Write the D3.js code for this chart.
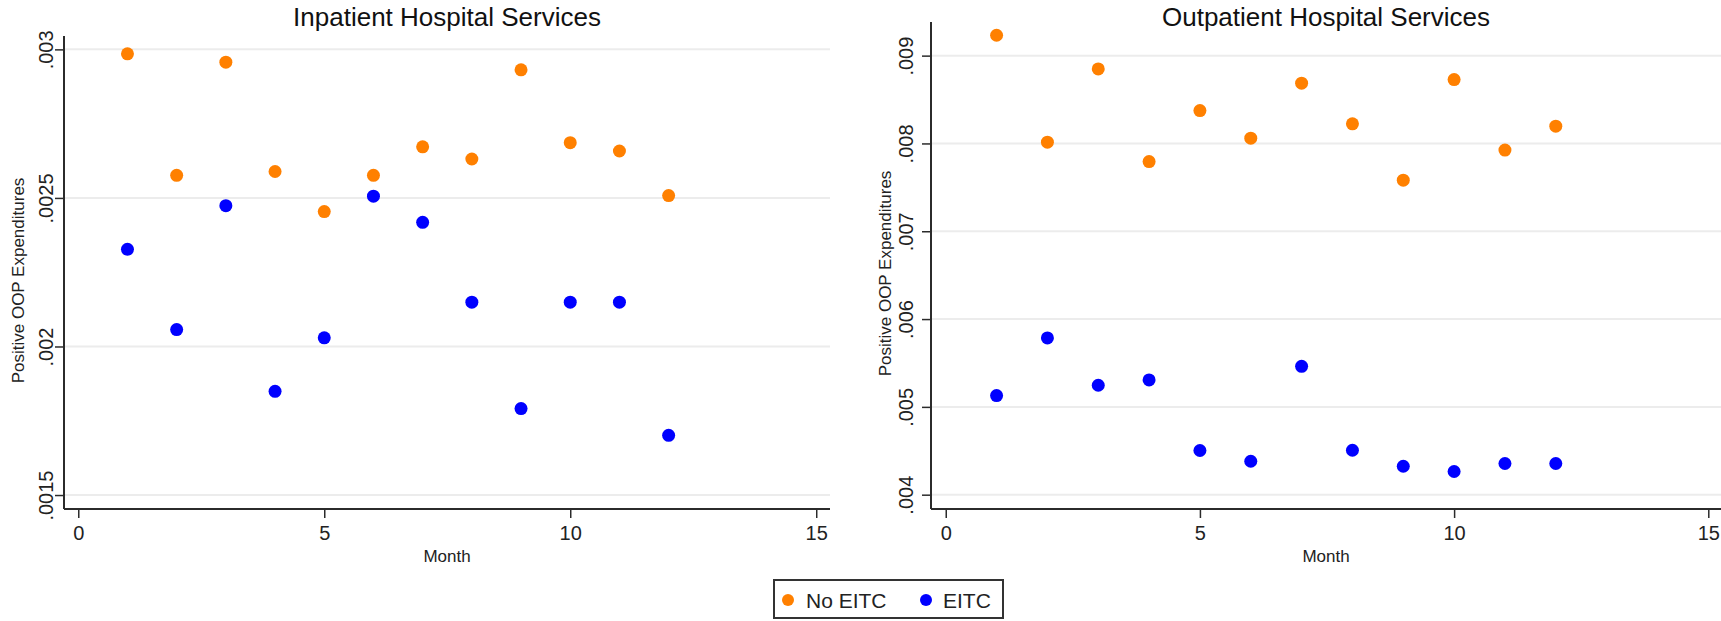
<!DOCTYPE html>
<html>
<head>
<meta charset="utf-8">
<script src="https://cdn.jsdelivr.net/npm/d3@7"></script>
<style>
    html, body { margin: 0; padding: 0; background: #fff; }
    svg { display: block; font-family: "Liberation Sans", Arial, sans-serif; }
</style>
</head>
<body>
<div id="chart"></div>
<script>
// Months on the x axis
const months = [1, 2, 3, 4, 5, 6, 7, 8, 9, 10, 11, 12];

// Inpatient hospital services
const inpatientNoEitc = [0.002985, 0.002576, 0.002957, 0.002589, 0.002454, 0.002576,
    0.002672, 0.002631, 0.002931, 0.002686, 0.002658, 0.002508];
const inpatientEitc = [0.002327, 0.002057, 0.002474, 0.001849, 0.002029, 0.002506,
    0.002418, 0.002149, 0.001791, 0.002149, 0.002149, 0.001701];
const inpatientYTicks = [0.0015, 0.002, 0.0025, 0.003];
const inpatientYLabels = ['.0015', '.002', '.0025', '.003'];

// Outpatient hospital services
const outpatientNoEitc = [0.009232, 0.008015, 0.008849, 0.007794, 0.008374, 0.008060,
    0.008686, 0.008223, 0.007582, 0.008727, 0.007924, 0.008197];
const outpatientEitc = [0.005129, 0.005785, 0.005246, 0.005307, 0.004503, 0.004381,
    0.005462, 0.004506, 0.004324, 0.004264, 0.004355, 0.004355];
const outpatientYTicks = [0.004, 0.005, 0.006, 0.007, 0.008, 0.009];
const outpatientYLabels = ['.004', '.005', '.006', '.007', '.008', '.009'];

const xTicks = [0, 5, 10, 15];
const seriesNames = ['No EITC', 'EITC'];

const orange = '#ff8000';
const blue = '#0000ff';
const axisColor = '#2b2b2b';
const gridColor = '#ececec';

const W = 1721, H = 621;
const svg = d3.select('#chart').append('svg')
    .attr('width', W)
    .attr('height', H);

const panels = [
    {
        title: 'Inpatient Hospital Services',
        noEitc: inpatientNoEitc, eitc: inpatientEitc,
        yTicks: inpatientYTicks, yLabels: inpatientYLabels,
        left: 64, right: 830, top: 36, bottom: 509,
        xDomain: [-0.29, 15.28], yDomain: [0.001453, 0.003045],
        labelGap: 11
    },
    {
        title: 'Outpatient Hospital Services',
        noEitc: outpatientNoEitc, eitc: outpatientEitc,
        yTicks: outpatientYTicks, yLabels: outpatientYLabels,
        left: 931, right: 1721, top: 22, bottom: 509,
        xDomain: [-0.29, 15.25], yDomain: [0.003837, 0.009383],
        labelGap: 18
    }
];

panels.forEach(p => {
    const g = svg.append('g');

    const x = d3.scaleLinear().domain(p.xDomain).range([p.left, p.right]);
    const y = d3.scaleLinear().domain(p.yDomain).range([p.bottom, p.top]);

    // Grid lines
    g.append('g')
        .selectAll('line')
        .data(p.yTicks)
        .enter()
        .append('line')
        .attr('x1', p.left + 1)
        .attr('x2', p.right)
        .attr('y1', d => y(d))
        .attr('y2', d => y(d))
        .attr('stroke', gridColor)
        .attr('stroke-width', 2);

    // Y axis
    const yAxis = d3.axisLeft(y)
        .tickValues(p.yTicks)
        .tickSize(9)
        .tickPadding(p.labelGap - 9)
        .tickFormat((d, i) => p.yLabels[i]);

    const yg = g.append('g')
        .attr('transform', `translate(${p.left},0)`)
        .call(yAxis);
    yg.select('.domain').remove();
    yg.selectAll('.tick line').attr('stroke', axisColor).attr('stroke-width', 1.5);
    yg.selectAll('.tick text')
        .attr('x', null).attr('dy', null)
        .attr('transform', `translate(${-p.labelGap},0) rotate(-90)`)
        .attr('text-anchor', 'middle')
        .attr('fill', '#222')
        .style('font-size', '20px');

    g.append('line')
        .attr('x1', p.left).attr('x2', p.left)
        .attr('y1', p.top).attr('y2', p.bottom)
        .attr('stroke', axisColor)
        .attr('stroke-width', 2);

    // X axis
    const xAxis = d3.axisBottom(x)
        .tickValues(xTicks)
        .tickSize(9)
        .tickPadding(6)
        .tickFormat(d3.format('d'));

    const xg = g.append('g')
        .attr('transform', `translate(0,${p.bottom})`)
        .call(xAxis);
    xg.select('.domain').remove();
    xg.selectAll('.tick line').attr('stroke', axisColor).attr('stroke-width', 1.5);
    xg.selectAll('.tick text')
        .attr('y', null).attr('dy', null)
        .attr('transform', 'translate(0,31)')
        .attr('fill', '#222')
        .style('font-size', '20px');

    g.append('line')
        .attr('x1', p.left).attr('x2', p.right)
        .attr('y1', p.bottom).attr('y2', p.bottom)
        .attr('stroke', axisColor)
        .attr('stroke-width', 2);

    // Titles
    const cx = (p.left + p.right) / 2;
    g.append('text')
        .attr('x', cx)
        .attr('y', 26)
        .attr('text-anchor', 'middle')
        .attr('fill', '#111')
        .style('font-size', '26px')
        .text(p.title);

    g.append('text')
        .attr('x', cx)
        .attr('y', 562)
        .attr('text-anchor', 'middle')
        .attr('fill', '#222')
        .style('font-size', '17px')
        .text('Month');

    g.append('text')
        .attr('transform', `translate(${p.left - 40},${(p.top + p.bottom) / 2 + 8}) rotate(-90)`)
        .attr('text-anchor', 'middle')
        .attr('fill', '#222')
        .style('font-size', '17px')
        .text('Positive OOP Expenditures');

    // Points
    g.selectAll('.no-eitc')
        .data(months)
        .enter()
        .append('circle')
        .attr('class', 'no-eitc')
        .attr('cx', d => x(d))
        .attr('cy', (d, i) => y(p.noEitc[i]))
        .attr('r', 6.5)
        .attr('fill', orange);

    g.selectAll('.eitc')
        .data(months)
        .enter()
        .append('circle')
        .attr('class', 'eitc')
        .attr('cx', d => x(d))
        .attr('cy', (d, i) => y(p.eitc[i]))
        .attr('r', 6.5)
        .attr('fill', blue);
});

// Legend
const legend = svg.append('g');
legend.append('rect')
    .attr('x', 774)
    .attr('y', 580)
    .attr('width', 229)
    .attr('height', 38)
    .attr('fill', '#fff')
    .attr('stroke', '#333')
    .attr('stroke-width', 2);

const legendItems = [
    { label: seriesNames[0], color: orange, dot: 788, text: 806 },
    { label: seriesNames[1], color: blue, dot: 926, text: 943 }
];

legendItems.forEach(item => {
    legend.append('circle')
        .attr('cx', item.dot)
        .attr('cy', 600)
        .attr('r', 6)
        .attr('fill', item.color);
    legend.append('text')
        .attr('x', item.text)
        .attr('y', 608)
        .attr('fill', '#222')
        .style('font-size', '21px')
        .text(item.label);
});
</script>
</body>
</html>
